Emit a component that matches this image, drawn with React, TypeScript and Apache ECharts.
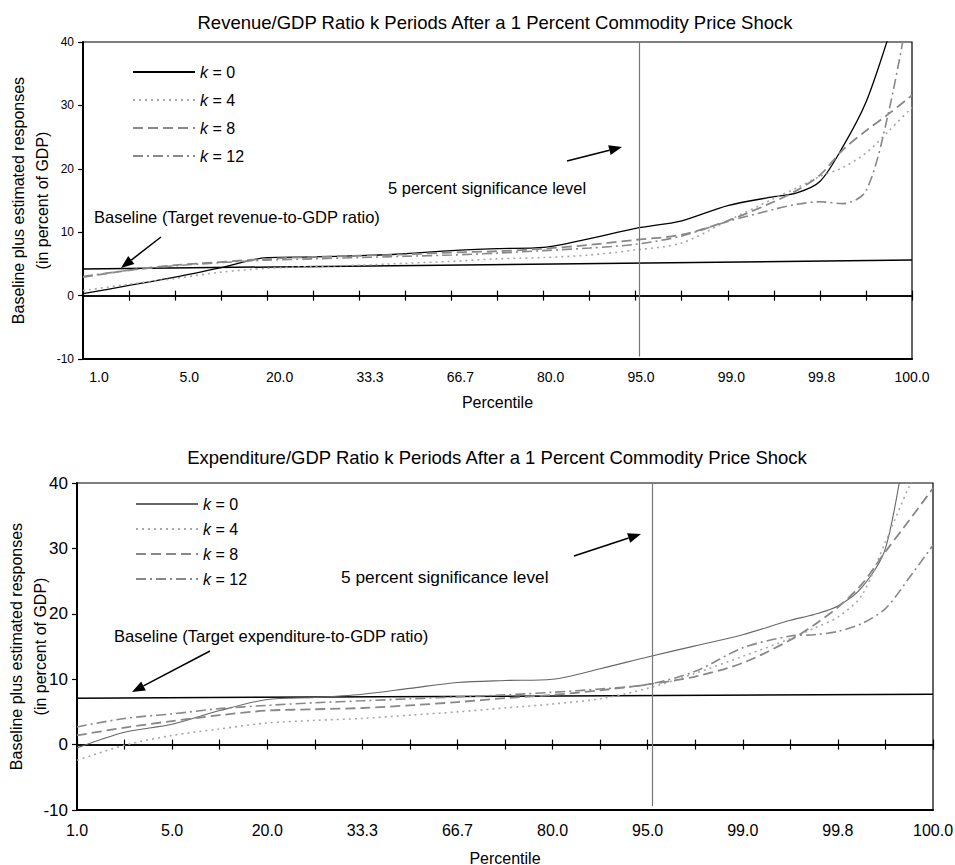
import { useEffect, useRef } from 'react';
import * as echarts from 'echarts';

// ---------- data ----------
const X_LABELS = ['1.0', '5.0', '20.0', '33.3', '66.7', '80.0', '95.0', '99.0', '99.8', '100.0'];
const POS = [0, 1, 2, 3, 4, 5, 6, 7, 8, 9, 10, 11, 12, 13, 14, 15, 15.5, 16, 16.5, 17, 17.5, 18];
const K_VALUES = ['0', '4', '8', '12'];

const REV_K0 = [0.3, 1.6, 2.9, 4.4, 6.0, 6.1, 6.3, 6.6, 7.1, 7.4, 7.6, 9.0, 10.6, 11.8, 14.2, 15.6, 16.2, 18.0, 23.5, 30.5, 41, 52];
const REV_K4 = [0.8, 1.8, 2.7, 3.7, 4.3, 4.6, 4.8, 5.1, 5.4, 5.8, 6.0, 6.4, 7.2, 8.3, 11.8, 15.3, 17.0, 18.8, 20.2, 22.5, 26.0, 29.7];
const REV_K8 = [2.9, 4.0, 4.8, 5.3, 5.8, 6.1, 6.3, 6.5, 6.8, 7.0, 7.4, 8.0, 8.8, 9.6, 11.8, 14.8, 16.6, 19.0, 23.0, 26.0, 28.7, 31.6];
const REV_K12 = [3.0, 4.0, 4.7, 5.2, 5.6, 5.8, 6.0, 6.2, 6.4, 6.7, 7.1, 7.5, 8.1, 9.4, 11.7, 13.6, 14.4, 14.8, 14.5, 16.5, 29.2, 48];

const EXP_K0 = [-0.5, 1.9, 3.1, 5.2, 6.9, 7.2, 7.7, 8.6, 9.5, 9.8, 10.0, 11.6, 13.4, 15.1, 16.8, 19.0, 19.9, 21.2, 24.0, 30.0, 48, 60];
const EXP_K4 = [-2.4, -0.1, 1.4, 2.4, 3.3, 3.7, 4.0, 4.5, 5.0, 5.6, 6.2, 7.0, 8.6, 10.9, 13.5, 16.2, 17.8, 19.5, 22.8, 31.0, 39.5, 47];
const EXP_K8 = [1.4, 2.6, 3.6, 4.5, 5.2, 5.4, 5.6, 6.0, 6.5, 7.1, 7.6, 8.3, 9.2, 10.4, 12.5, 16.0, 18.3, 21.0, 24.5, 29.5, 34.3, 39.2];
const EXP_K12 = [2.7, 4.0, 4.7, 5.5, 6.0, 6.4, 6.7, 7.0, 7.3, 7.6, 8.0, 8.5, 9.2, 11.2, 14.8, 16.6, 16.8, 17.3, 18.5, 20.8, 25.5, 30.5];

const BASE_POS = [0, 18];
const REV_BASE = [4.2, 5.6];
const EXP_BASE = [7.1, 7.7];

const SIG_REV = 12.07;
const SIG_EXP = 12.09;

// ---------- styling helpers ----------
const FONT = '"Liberation Sans", Arial, Helvetica, sans-serif';

const pairs = (xs: number[], ys: number[]) => xs.map((x, i) => [x, ys[i]]);

function arrowEls(x1: number, y1: number, x2: number, y2: number, len = 13, half = 5) {
  const dx = x2 - x1;
  const dy = y2 - y1;
  const d = Math.hypot(dx, dy);
  const ux = dx / d;
  const uy = dy / d;
  const bx = x2 - ux * len;
  const by = y2 - uy * len;
  const px = -uy * half;
  const py = ux * half;
  return [
    { type: 'line', shape: { x1, y1, x2: bx, y2: by }, style: { stroke: '#000', lineWidth: 1.5 } },
    { type: 'polygon', shape: { points: [[x2, y2], [bx + px, by + py], [bx - px, by - py]] }, style: { fill: '#000' } },
  ];
}

function textEl(text: string, x: number, y: number, align = 'left', size = 16) {
  return {
    type: 'text',
    x,
    y,
    style: { text, fontSize: size, fontFamily: FONT, fill: '#000', align, verticalAlign: 'middle' },
  };
}

// main axis (bottom border + optional labels), then two zero-line tick axes
function xAxesFor(grid: number, showLabels: boolean, labelSize: number, labelMargin: number, nameGap: number) {
  const base = {
    gridIndex: grid,
    type: 'value',
    min: 0,
    max: 18,
    interval: 1,
    position: 'bottom',
    splitLine: { show: false },
    axisLabel: { show: false },
  };
  return [
    {
      gridIndex: grid,
      type: 'value',
      min: 0,
      max: 18,
      interval: 2,
      position: 'bottom',
      name: 'Percentile',
      nameLocation: 'middle',
      nameGap,
      nameMoveOverlap: false,
      nameTextStyle: { fontSize: 16, color: '#000', fontFamily: FONT },
      axisLine: { onZero: false, lineStyle: { color: '#000', width: 2 } },
      axisTick: { show: false },
      splitLine: { show: false },
      axisLabel: {
        show: showLabels,
        formatter: (v: number) => X_LABELS[Math.round(v / 2)] ?? '',
        fontSize: labelSize,
        color: '#000',
        fontFamily: FONT,
        margin: labelMargin,
      },
    },
    {
      ...base,
      axisLine: { onZero: true, onZeroAxisIndex: grid, lineStyle: { color: '#000', width: 1.5 } },
      axisTick: { show: true, length: 5, lineStyle: { color: '#000', width: 1.2 } },
    },
    {
      ...base,
      axisLine: { onZero: true, onZeroAxisIndex: grid, lineStyle: { color: '#000', width: 1.5 } },
      axisTick: { show: true, inside: true, length: 5, lineStyle: { color: '#000', width: 1.2 } },
    },
  ];
}

function yAxisFor(grid: number, labelSize: number, nameGap: number) {
  return {
    gridIndex: grid,
    type: 'value',
    min: -10,
    max: 40,
    interval: 10,
    name: 'Baseline plus estimated responses\n(in percent of GDP)',
    nameLocation: 'middle',
    nameGap,
    nameMoveOverlap: false,
    nameTextStyle: { fontSize: 16, color: '#000', fontFamily: FONT, lineHeight: 24 },
    axisLine: { show: true, onZero: false, lineStyle: { color: '#000', width: 2 } },
    axisTick: { show: true, length: 5, lineStyle: { color: '#000', width: 1.2 } },
    splitLine: { show: false },
    axisLabel: { fontSize: labelSize, color: '#000', fontFamily: FONT, margin: 9 },
  };
}

const STYLES = {
  k0top: { color: '#000', width: 1.3, type: 'solid' },
  k0bot: { color: '#666', width: 1.1, type: 'solid' },
  k4: { color: '#a8a8a8', width: 1.6, type: [2, 4] },
  k8: { color: '#888', width: 1.8, type: [10, 5] },
  k12: { color: '#888', width: 1.6, type: [10, 4, 2, 4] },
};

function lineSeries(name: string, xIdx: number, yIdx: number, values: number[], style: any) {
  return {
    name,
    type: 'line',
    xAxisIndex: xIdx,
    yAxisIndex: yIdx,
    data: pairs(POS, values),
    symbol: 'none',
    smooth: 0.3,
    clip: true,
    lineStyle: style,
    itemStyle: { color: style.color },
    z: 3,
  };
}

function baselineSeries(name: string, xIdx: number, yIdx: number, values: number[], sigX: number, sigBottom: number) {
  return {
    name,
    type: 'line',
    xAxisIndex: xIdx,
    yAxisIndex: yIdx,
    data: pairs(BASE_POS, values),
    symbol: 'none',
    lineStyle: { color: '#000', width: 1.5 },
    z: 2,
    markLine: {
      silent: true,
      symbol: ['none', 'none'],
      label: { show: false },
      lineStyle: { color: '#777', width: 1.2, type: 'solid' },
      data: [[{ coord: [sigX, 40] }, { coord: [sigX, sigBottom] }]],
    },
  };
}

const legendFormatter = (name: string) => {
  const idx = ['k0', 'k4', 'k8', 'k12'].findIndex((k) => name.endsWith(' ' + k));
  return '{i|k} = ' + K_VALUES[idx];
};

const legendBase = {
  orient: 'vertical',
  itemWidth: 62,
  itemHeight: 14,
  padding: 0,
  selectedMode: false,
  itemStyle: { opacity: 0 },
  formatter: legendFormatter,
  textStyle: {
    fontSize: 16,
    color: '#000',
    fontFamily: FONT,
    rich: { i: { fontStyle: 'italic', fontSize: 16, fontFamily: FONT, color: '#000' } },
  },
};

const gridBase = { show: true, borderColor: '#000', borderWidth: 1.2, backgroundColor: 'transparent', outerBoundsMode: 'none', containLabel: false };

const option: any = {
  animation: false,
  backgroundColor: '#fff',
  textStyle: { fontFamily: FONT, color: '#000' },
  grid: [
    { ...gridBase, left: 83, top: 42, width: 829, height: 317 },
    { ...gridBase, left: 77, top: 483, width: 856, height: 327 },
    // label strip for the upper chart's percentile labels
    { left: 99, top: 358, width: 813, height: 1, show: false, outerBoundsMode: 'none', containLabel: false },
  ],
  xAxis: [
    ...xAxesFor(0, false, 14, 11, 35),
    ...xAxesFor(1, true, 16, 12, 40),
    {
      gridIndex: 2,
      type: 'category',
      data: X_LABELS,
      boundaryGap: false,
      position: 'bottom',
      axisLine: { show: false },
      axisTick: { show: false },
      splitLine: { show: false },
      axisLabel: { interval: 0, fontSize: 14, color: '#000', fontFamily: FONT, margin: 11 },
    },
  ],
  yAxis: [
    yAxisFor(0, 12, 29),
    yAxisFor(1, 17, 25),
    { gridIndex: 2, type: 'value', show: false, min: 0, max: 1 },
  ],
  legend: [
    { ...legendBase, data: ['rev k0', 'rev k4', 'rev k8', 'rev k12'], left: 132, top: 64, itemGap: 12 },
    { ...legendBase, data: ['exp k0', 'exp k4', 'exp k8', 'exp k12'], left: 135, top: 496, itemGap: 9 },
  ],
  series: [
    baselineSeries('rev base', 1, 0, REV_BASE, SIG_REV, -9.6),
    lineSeries('rev k0', 1, 0, REV_K0, STYLES.k0top),
    lineSeries('rev k4', 1, 0, REV_K4, STYLES.k4),
    lineSeries('rev k8', 1, 0, REV_K8, STYLES.k8),
    lineSeries('rev k12', 1, 0, REV_K12, STYLES.k12),
    baselineSeries('exp base', 4, 1, EXP_BASE, SIG_EXP, -9.4),
    lineSeries('exp k0', 4, 1, EXP_K0, STYLES.k0bot),
    lineSeries('exp k4', 4, 1, EXP_K4, STYLES.k4),
    lineSeries('exp k8', 4, 1, EXP_K8, STYLES.k8),
    lineSeries('exp k12', 4, 1, EXP_K12, STYLES.k12),
  ],
  graphic: [
    textEl('Revenue/GDP Ratio k Periods After a 1 Percent Commodity Price Shock', 495, 22, 'center', 18.5),
    textEl('Expenditure/GDP Ratio k Periods After a 1 Percent Commodity Price Shock', 497, 457, 'center', 18.5),
    textEl('5 percent significance level', 388, 188, 'left', 16.5),
    textEl('Baseline (Target revenue-to-GDP ratio)', 94, 217, 'left', 16.5),
    textEl('5 percent significance level', 341, 577, 'left', 17.3),
    textEl('Baseline (Target expenditure-to-GDP ratio)', 114, 636, 'left', 16.6),
    ...arrowEls(161, 237, 121, 268),
    ...arrowEls(567, 161, 622, 147),
    ...arrowEls(574, 556, 641, 534),
    ...arrowEls(210, 651, 132, 692),
  ],
};

export default function App() {
  const ref = useRef<HTMLDivElement>(null);
  useEffect(() => {
    const chart = echarts.init(ref.current!, null, { renderer: 'svg' });
    chart.setOption(option);
    return () => chart.dispose();
  }, []);
  return (
    <div
      ref={ref}
      style={{ position: 'fixed', left: 0, top: 0, width: 955, height: 865, background: '#fff' }}
    />
  );
}
